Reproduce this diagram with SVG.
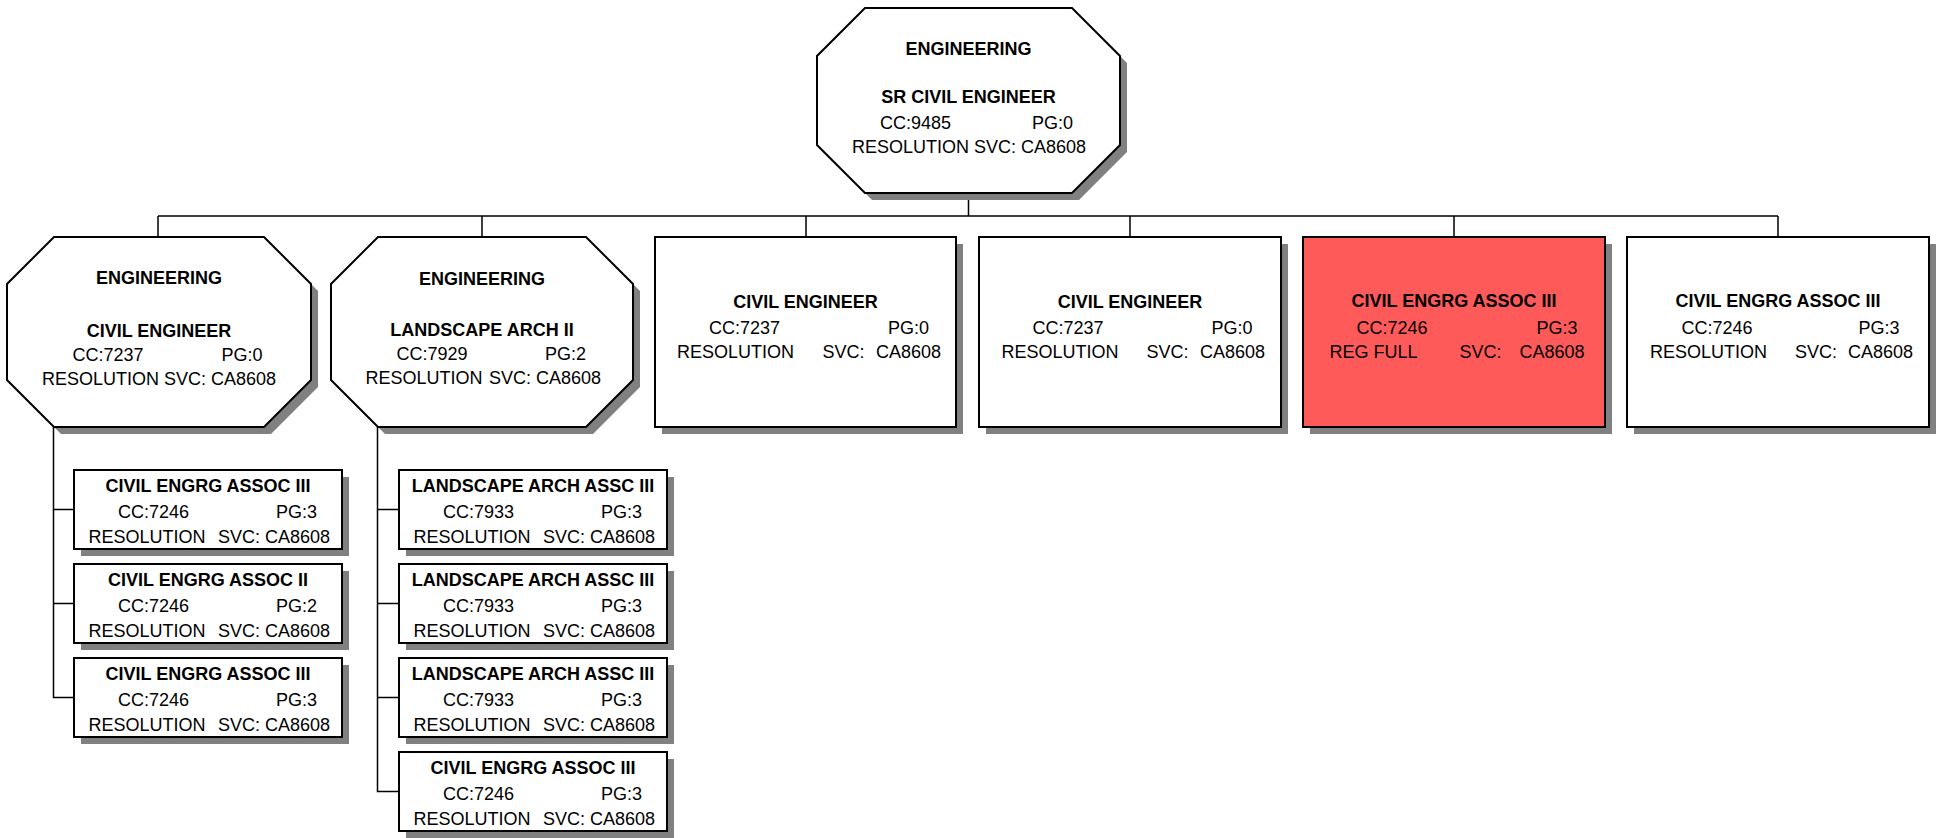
<svg xmlns="http://www.w3.org/2000/svg" width="1940" height="838" viewBox="0 0 1940 838">
<style>
.bg{fill:#fff}
.box{fill:#fff;stroke:#000;stroke-width:2}
.red{fill:#FF5A5A}
.sh{fill:#808080;stroke:none}
.b{font-family:"Liberation Sans",Arial,sans-serif;font-weight:bold;font-size:18px;text-anchor:middle;fill:#000}
.t{font-family:"Liberation Sans",Arial,sans-serif;font-size:18px;fill:#000}
.e{text-anchor:end}
.m{text-anchor:middle}
.conn{stroke:#000;stroke-width:1.5;fill:none}
</style>
<rect class="bg" x="0" y="0" width="1940" height="838"/>
<g id="connectors" class="conn">
<path d="M968.5 193V216M158 216H1778M158 216V237M482 216V237M806 216V237M1130 216V237M1454 216V237M1778 216V237"/>
<path d="M53.5 427V509.5H74M53.5 509.5V603.5H74M53.5 603.5V697.5H74"/>
<path d="M377.5 427V509.5H399M377.5 509.5V603.5H399M377.5 603.5V697.5H399M377.5 697.5V791.5H399"/>
</g>
<g id="n0">
<polygon class="sh" transform="translate(7,7)" points="865,8 1072,8 1120,56 1120,145 1072,193 865,193 817,145 817,56"/>
<polygon class="box" points="865,8 1072,8 1120,56 1120,145 1072,193 865,193 817,145 817,56"/>
<text class="b" x="968.5" y="55">ENGINEERING</text>
<text class="b" x="968.5" y="103">SR CIVIL ENGINEER</text>
<text class="t" x="880" y="128.5">CC:9485</text>
<text class="t" x="1032" y="128.5">PG:0</text>
<text class="t m" x="969" y="152.5">RESOLUTION SVC: CA8608</text>
</g>
<g id="n1">
<polygon class="sh" transform="translate(7,7)" points="54,237 264,237 311,284 311,380 264,427 54,427 7,380 7,284"/>
<polygon class="box" points="54,237 264,237 311,284 311,380 264,427 54,427 7,380 7,284"/>
<text class="b" x="159" y="283.5">ENGINEERING</text>
<text class="b" x="159" y="336.5">CIVIL ENGINEER</text>
<text class="t" x="72.5" y="361">CC:7237</text>
<text class="t" x="221.5" y="361">PG:0</text>
<text class="t m" x="159" y="385">RESOLUTION SVC: CA8608</text>
</g>
<g id="n2">
<polygon class="sh" transform="translate(7,7)" points="378,237 586,237 633,284 633,380 586,427 378,427 331,380 331,284"/>
<polygon class="box" points="378,237 586,237 633,284 633,380 586,427 378,427 331,380 331,284"/>
<text class="b" x="482" y="284.5">ENGINEERING</text>
<text class="b" x="482" y="336">LANDSCAPE ARCH II</text>
<text class="t" x="396.5" y="359.5">CC:7929</text>
<text class="t" x="545" y="359.5">PG:2</text>
<text class="t" x="365.5" y="384">RESOLUTION</text>
<text class="t e" x="601" y="384">SVC: CA8608</text>
</g>
<g id="n3">
<rect class="sh" x="662" y="244" width="301" height="190"/>
<rect class="box" x="655" y="237" width="301" height="190"/>
<text class="b" x="805.5" y="308">CIVIL ENGINEER</text>
<text class="t" x="709" y="334">CC:7237</text>
<text class="t" x="888" y="334">PG:0</text>
<text class="t" x="677" y="357.5">RESOLUTION</text>
<text class="t" x="822.5" y="357.5">SVC:</text>
<text class="t" x="876" y="357.5">CA8608</text>
</g>
<g id="n4">
<rect class="sh" x="986" y="244" width="302" height="190"/>
<rect class="box" x="979" y="237" width="302" height="190"/>
<text class="b" x="1130" y="308">CIVIL ENGINEER</text>
<text class="t" x="1032.5" y="334">CC:7237</text>
<text class="t" x="1211.5" y="334">PG:0</text>
<text class="t" x="1001.5" y="357.5">RESOLUTION</text>
<text class="t" x="1146.5" y="357.5">SVC:</text>
<text class="t" x="1200" y="357.5">CA8608</text>
</g>
<g id="n5">
<rect class="sh" x="1310" y="244" width="302" height="190"/>
<rect class="box red" x="1303" y="237" width="302" height="190"/>
<text class="b" x="1454" y="307">CIVIL ENGRG ASSOC III</text>
<text class="t" x="1356.5" y="334">CC:7246</text>
<text class="t" x="1536.5" y="334">PG:3</text>
<text class="t" x="1329.5" y="357.5">REG FULL</text>
<text class="t" x="1459.5" y="357.5">SVC:</text>
<text class="t" x="1519.5" y="357.5">CA8608</text>
</g>
<g id="n6">
<rect class="sh" x="1634" y="244" width="302" height="190"/>
<rect class="box" x="1627" y="237" width="302" height="190"/>
<text class="b" x="1778" y="307">CIVIL ENGRG ASSOC III</text>
<text class="t" x="1681.5" y="334">CC:7246</text>
<text class="t" x="1858.5" y="334">PG:3</text>
<text class="t" x="1650" y="357.5">RESOLUTION</text>
<text class="t" x="1795" y="357.5">SVC:</text>
<text class="t" x="1848" y="357.5">CA8608</text>
</g>
<g id="n1a">
<rect class="sh" x="81" y="477" width="268" height="79"/>
<rect class="box" x="74" y="470" width="268" height="79"/>
<text class="b" x="208" y="492">CIVIL ENGRG ASSOC III</text>
<text class="t" x="118" y="517.5">CC:7246</text>
<text class="t e" x="317" y="517.5">PG:3</text>
<text class="t" x="88.5" y="542.5">RESOLUTION</text>
<text class="t e" x="330" y="542.5">SVC: CA8608</text>
</g>
<g id="n1b">
<rect class="sh" x="81" y="571" width="268" height="79"/>
<rect class="box" x="74" y="564" width="268" height="79"/>
<text class="b" x="208" y="586">CIVIL ENGRG ASSOC II</text>
<text class="t" x="118" y="611.5">CC:7246</text>
<text class="t e" x="317" y="611.5">PG:2</text>
<text class="t" x="88.5" y="636.5">RESOLUTION</text>
<text class="t e" x="330" y="636.5">SVC: CA8608</text>
</g>
<g id="n1c">
<rect class="sh" x="81" y="665" width="268" height="79"/>
<rect class="box" x="74" y="658" width="268" height="79"/>
<text class="b" x="208" y="680">CIVIL ENGRG ASSOC III</text>
<text class="t" x="118" y="705.5">CC:7246</text>
<text class="t e" x="317" y="705.5">PG:3</text>
<text class="t" x="88.5" y="730.5">RESOLUTION</text>
<text class="t e" x="330" y="730.5">SVC: CA8608</text>
</g>
<g id="n2a">
<rect class="sh" x="406" y="477" width="268" height="79"/>
<rect class="box" x="399" y="470" width="268" height="79"/>
<text class="b" x="533" y="492">LANDSCAPE ARCH ASSC III</text>
<text class="t" x="443" y="517.5">CC:7933</text>
<text class="t e" x="642" y="517.5">PG:3</text>
<text class="t" x="413.5" y="542.5">RESOLUTION</text>
<text class="t e" x="655" y="542.5">SVC: CA8608</text>
</g>
<g id="n2b">
<rect class="sh" x="406" y="571" width="268" height="79"/>
<rect class="box" x="399" y="564" width="268" height="79"/>
<text class="b" x="533" y="586">LANDSCAPE ARCH ASSC III</text>
<text class="t" x="443" y="611.5">CC:7933</text>
<text class="t e" x="642" y="611.5">PG:3</text>
<text class="t" x="413.5" y="636.5">RESOLUTION</text>
<text class="t e" x="655" y="636.5">SVC: CA8608</text>
</g>
<g id="n2c">
<rect class="sh" x="406" y="665" width="268" height="79"/>
<rect class="box" x="399" y="658" width="268" height="79"/>
<text class="b" x="533" y="680">LANDSCAPE ARCH ASSC III</text>
<text class="t" x="443" y="705.5">CC:7933</text>
<text class="t e" x="642" y="705.5">PG:3</text>
<text class="t" x="413.5" y="730.5">RESOLUTION</text>
<text class="t e" x="655" y="730.5">SVC: CA8608</text>
</g>
<g id="n2d">
<rect class="sh" x="406" y="759" width="268" height="79"/>
<rect class="box" x="399" y="752" width="268" height="79"/>
<text class="b" x="533" y="774">CIVIL ENGRG ASSOC III</text>
<text class="t" x="443" y="799.5">CC:7246</text>
<text class="t e" x="642" y="799.5">PG:3</text>
<text class="t" x="413.5" y="824.5">RESOLUTION</text>
<text class="t e" x="655" y="824.5">SVC: CA8608</text>
</g>
</svg>
